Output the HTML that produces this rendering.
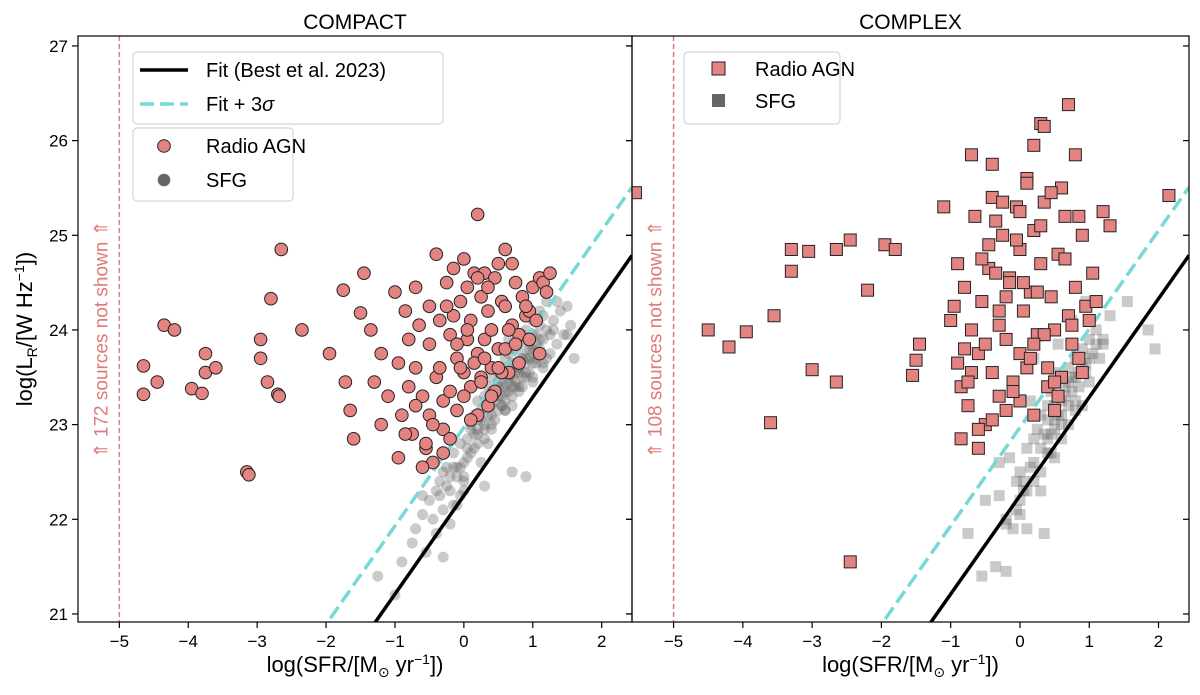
<!DOCTYPE html>
<html><head><meta charset="utf-8"><style>
html,body{margin:0;padding:0;background:#fff;width:1200px;height:695px;overflow:hidden}
svg{display:block;font-family:"Liberation Sans","DejaVu Sans",sans-serif}
</style></head><body>
<svg id="chart" width="1200" height="695" viewBox="0 0 1200 695"></svg>
<script>
// ---- data ----
const xTicks=[-5,-4,-3,-2,-1,0,1,2];
const yTicks=[21,22,23,24,25,26,27];
const fitSlope=1.04, fitIntercept=22.25, fitOffset=0.72;
const excludedLeft=172, excludedRight=108;

const agnLeftX=[-4.65,-4.65,-4.45,-4.35,-4.2,-3.95,-3.8,-3.75,-3.75,-3.6,-3.15,-3.12,-2.95,-2.95,-2.85,-2.8,-2.7,-2.68,-2.65,-2.35,-1.95,-1.75,-1.72,-1.65,-1.6,-1.5,-1.45,-1.35,-1.3,-1.2,-1.2,-1.1,-1.0,-0.95,-0.9,-0.85,-0.8,-0.8,-0.75,-0.7,-0.7,-0.65,-0.6,-0.55,-0.5,-0.5,-0.45,-0.4,-0.4,-0.35,-0.3,-0.3,-0.25,-0.2,-0.2,-0.15,-0.1,-0.1,-0.05,0.0,0.0,0.05,0.05,0.1,0.1,0.15,0.2,0.2,0.25,0.25,0.3,0.3,0.35,0.4,0.4,0.45,0.5,0.5,0.55,0.6,0.6,0.65,0.7,0.7,0.75,0.8,0.85,0.9,0.95,1.0,1.05,1.1,1.15,1.2,1.25,-0.85,-0.6,-0.3,0.0,0.2,0.35,-0.5,-0.2,0.1,0.45,0.15,-0.1,0.3,0.55,-0.35,0.6,0.8,-0.7,-0.45,0.25,0.05,-0.15,0.4,0.65,0.95,0.75,-0.95,-0.55,-0.05,0.5,1.1,0.9,0.2,-0.25,0.35];
const agnLeftY=[23.62,23.32,23.45,24.05,24.0,23.38,23.33,23.75,23.55,23.6,22.5,22.47,23.9,23.7,23.45,24.33,23.32,23.3,24.85,24.0,23.75,24.42,23.45,23.15,22.85,24.18,24.6,24.0,23.45,23.75,23.0,23.3,24.4,23.65,23.1,24.2,23.9,23.4,22.9,24.45,23.6,24.05,23.3,22.75,24.25,23.85,22.6,24.8,23.5,24.1,23.25,22.7,24.5,23.95,23.35,24.65,23.15,23.7,24.3,24.75,23.55,23.9,24.45,23.4,24.1,24.6,25.22,23.75,24.35,23.5,24.6,23.9,24.2,24.0,23.6,24.55,24.7,23.8,24.3,24.25,24.85,23.55,24.05,24.7,24.5,23.95,24.35,24.15,24.2,24.45,24.1,24.55,24.5,24.4,24.6,22.9,22.55,22.95,23.3,23.1,23.2,23.1,22.85,23.05,23.35,23.65,23.85,23.7,23.55,23.6,23.8,23.65,23.2,23.0,23.45,24.0,24.15,23.3,24.0,23.9,23.85,22.65,22.8,23.6,23.6,23.75,24.25,24.55,24.25,24.45];

const sfgLeftX=[-1.25,-1.0,-0.9,-0.75,-0.7,-0.6,-0.55,-0.5,-0.45,-0.4,-0.35,-0.3,-0.3,-0.25,-0.2,-0.2,-0.15,-0.1,-0.1,-0.05,0.0,0.0,0.05,0.1,0.1,0.15,0.2,0.2,0.25,0.3,0.3,0.35,0.4,0.4,0.45,0.5,0.5,0.55,0.6,0.6,0.65,0.7,0.7,0.75,0.8,0.8,0.85,0.9,0.9,0.95,1.0,1.0,1.05,1.1,1.1,1.15,1.2,1.2,1.25,1.3,1.35,1.4,1.45,1.5,1.55,1.6,0.15,0.35,0.55,0.75,0.95,1.15,0.25,0.45,0.65,0.85,1.05,-0.15,0.05,0.2,0.4,0.6,0.8,1.0,1.25,1.5,0.7,0.9,-0.6,0.3,0.65,1.35,
 0.3,0.35,0.4,0.45,0.5,0.55,0.6,0.65,0.7,0.75,0.8,0.85,0.9,0.95,1.0,1.05,1.1,1.15,0.4,0.5,0.6,0.7,0.8,0.9,1.0,1.1,0.45,0.55,0.65,0.75,0.85,0.95,1.05,0.2,0.3,0.4,0.5,0.6,0.7,0.8,-0.05,0.05,0.15,0.25,0.35,-0.2,-0.1,0.0,0.1,0.2,-0.35,-0.25,-0.15,-0.05,0.6,0.7,0.8,0.9,1.0,1.2,1.3,1.1,0.5,0.65,0.85,1.0,1.15,-0.4,-0.3,0.0];
const sfgLeftY=[21.4,21.2,21.55,21.75,21.9,22.05,21.65,22.2,22.0,21.85,22.4,22.1,21.6,22.55,22.3,21.95,22.7,22.45,22.15,22.8,22.6,22.3,22.85,23.0,22.7,23.1,22.9,23.25,23.15,23.3,22.95,23.4,23.2,23.5,23.35,23.6,23.3,23.45,23.7,23.4,23.55,23.8,23.5,23.65,23.9,23.6,23.75,24.0,23.7,23.85,24.1,23.8,23.95,24.2,23.75,23.9,24.3,23.7,23.95,24.1,23.85,24.2,23.95,24.25,24.05,23.7,22.9,23.1,23.2,23.4,23.55,23.65,23.05,23.25,23.35,23.5,23.7,22.55,22.75,22.8,23.0,23.15,23.35,23.45,23.75,23.95,22.5,22.45,22.25,22.35,23.9,24.3,
 23.0,23.25,23.1,23.3,23.45,23.2,23.35,23.5,23.3,23.45,23.6,23.4,23.55,23.7,23.5,23.65,23.8,23.6,22.95,23.15,23.25,23.4,23.55,23.65,23.75,23.9,23.05,23.3,23.45,23.55,23.7,23.8,23.85,22.95,22.85,23.35,23.4,23.6,23.65,23.85,22.55,22.65,22.75,22.6,22.8,22.45,22.55,22.4,22.95,23.05,22.25,22.35,22.15,22.25,23.15,23.2,23.4,23.5,23.65,24.0,24.0,24.05,23.55,23.75,23.95,23.95,24.15,22.3,22.5,22.45];

const agnRightX=[-5.55,-4.5,-4.2,-3.95,-3.55,-3.6,-3.3,-3.3,-3.0,-3.05,-2.65,-2.65,-2.45,-2.45,-2.2,-1.95,-1.8,-1.55,-1.5,-1.45,-1.1,-0.9,-0.7,-0.4,0.2,0.3,0.35,0.7,0.8,2.15,-1.0,-0.9,-0.85,-0.8,-0.75,-0.7,-0.65,-0.6,-0.55,-0.5,-0.45,-0.4,-0.35,-0.3,-0.3,-0.25,-0.2,-0.15,-0.1,-0.05,0.0,0.0,0.05,0.1,0.1,0.15,0.2,0.25,0.3,0.35,0.4,0.45,0.5,0.55,0.6,0.65,0.7,0.75,0.8,0.85,0.9,0.95,1.0,1.05,1.1,1.2,1.3,-0.85,-0.6,-0.4,-0.2,0.0,0.2,0.4,-0.7,-0.5,-0.3,-0.1,0.15,0.35,0.55,-0.95,-0.45,-0.05,0.3,0.6,0.85,-0.25,0.1,0.45,-0.55,-0.15,0.25,0.65,0.9,-0.75,-0.35,0.05,0.5,0.75,-0.6,-0.2,0.2,0.5,-0.4,0.0,-0.8];
const agnRightY=[25.45,24.0,23.82,23.98,24.15,23.02,24.85,24.62,23.58,24.83,24.85,23.45,24.95,21.55,24.42,24.9,24.85,23.52,23.68,23.85,25.3,24.7,25.85,25.4,25.95,26.18,26.15,26.38,25.85,25.42,24.1,23.65,23.4,24.45,23.2,24.0,25.2,23.75,24.3,23.0,24.9,23.55,25.15,24.2,23.3,25.0,23.9,24.55,23.45,25.3,23.75,24.85,24.2,25.6,23.6,24.4,25.05,23.95,24.7,25.35,23.4,24.35,24.0,24.8,23.5,25.2,24.15,23.85,24.45,23.7,25.0,24.25,24.1,24.6,24.3,25.25,25.1,22.85,22.95,23.05,23.15,23.25,23.1,23.6,23.55,23.85,24.05,23.35,23.7,23.95,23.3,24.25,24.65,24.95,25.1,25.5,25.2,25.35,25.55,25.45,24.75,24.5,24.4,24.75,23.55,23.45,24.6,24.5,23.45,24.05,22.75,24.35,23.85,23.15,25.75,25.25,23.8];

const sfgRightX=[-0.75,-0.55,-0.5,-0.35,-0.3,-0.2,-0.15,-0.05,0.0,0.0,0.05,0.1,0.15,0.2,0.25,0.3,0.35,0.4,0.45,0.5,0.55,0.6,0.65,0.7,0.75,0.8,0.85,0.9,0.95,1.0,1.05,1.1,1.15,1.2,1.3,1.55,1.85,1.95,-0.2,0.1,0.3,0.5,0.7,0.9,0.4,0.6,0.8,1.0,0.2,-0.1,0.15,0.55,0.75,0.95,0.35,-0.3,0.5,
 0.4,0.5,0.6,0.7,0.8,0.9,1.0,0.45,0.55,0.65,0.75,0.85,0.95,0.3,0.4,0.5,0.6,0.7,0.8,0.2,0.3,0.45,0.6,0.1,0.2,0.0,-0.1,0.05,-0.2,-0.05,1.1,1.2];
const sfgRightY=[21.85,21.4,22.2,21.5,22.25,21.45,22.65,22.1,22.5,22.05,22.4,22.75,22.55,22.85,22.95,23.1,22.9,23.2,23.35,23.05,23.3,23.5,23.4,23.6,23.35,23.7,23.55,23.8,23.65,23.9,23.75,24.0,23.7,23.85,24.15,24.3,24.0,23.8,21.95,21.9,22.3,22.65,23.0,23.2,22.7,23.0,23.15,23.45,23.7,23.35,23.25,23.85,24.1,24.3,21.85,22.6,23.55,
 23.05,23.2,23.25,23.45,23.5,23.6,23.7,22.9,23.1,23.3,23.5,23.4,23.55,22.75,22.85,22.95,23.1,23.2,23.25,22.6,22.5,22.7,22.85,22.3,22.4,22.2,21.9,22.3,22.0,22.4,23.85,23.9];

// ---- layout ----
const NS='http://www.w3.org/2000/svg';
const svg=document.getElementById('chart');
const X0=-5.6,X1=2.44,Y0=20.915,Y1=27.105;
const PT=36,PB=622;
function mk(tag,attrs,parent){const e=document.createElementNS(NS,tag);for(const k in attrs)e.setAttribute(k,attrs[k]);(parent||svg).appendChild(e);return e;}
function yS(v){return PB-(v-Y0)/(Y1-Y0)*(PB-PT);}

function panel(L,R,title,name,agnX,agnY,sfgX,sfgY,square,excl){
  const g=mk('g',{});
  
  
  const xS=v=>L+(v-X0)/(X1-X0)*(R-L);
  const clip=mk('clipPath',{id:'clip-'+name},g);
  mk('rect',{x:L,y:PT,width:R-L,height:PB-PT},clip);
  const plot=mk('g',{'clip-path':'url(#clip-'+name+')'},g);
  const ex=mk('line',{x1:xS(-5),x2:xS(-5),y1:PT,y2:PB,stroke:'#e07a7a','stroke-width':1.5,'stroke-dasharray':'5,3'},plot);
  
  
  const et=mk('text',{x:0,y:0,transform:`translate(${xS(-5)-12},${yS(23.9)}) rotate(-90)`,'text-anchor':'middle','font-size':19,fill:'#e07a7a'},g);
  et.textContent='⇑ '+excl+' sources not shown ⇑';
  
  
  const sg=mk('g',{},plot);
  
  
  for(let i=0;i<sfgX.length;i++){
    let m;
    if(square) m=mk('rect',{x:xS(sfgX[i])-5.5,y:yS(sfgY[i])-5.5,width:11,height:11,fill:'#666','fill-opacity':0.35},sg);
    else m=mk('circle',{cx:xS(sfgX[i]),cy:yS(sfgY[i]),r:5.5,fill:'#666','fill-opacity':0.35},sg);
    
    
  }
  const f=v=>fitSlope*v+fitIntercept;
  const fl=mk('line',{x1:xS(X0),y1:yS(f(X0)),x2:xS(X1),y2:yS(f(X1)),stroke:'#000','stroke-width':3.5},plot);
  
  
  const dl=mk('line',{x1:xS(X0),y1:yS(f(X0)+fitOffset),x2:xS(X1),y2:yS(f(X1)+fitOffset),stroke:'#78d8d6','stroke-width':3.5,'stroke-dasharray':'14,6'},plot);
  
  
  const ag=mk('g',{},plot);
  
  
  for(let i=0;i<agnX.length;i++){
    let m;
    if(square) m=mk('rect',{x:xS(agnX[i])-6,y:yS(agnY[i])-6,width:12,height:12,fill:'#e48482',stroke:'#222','stroke-width':1},ag);
    else m=mk('circle',{cx:xS(agnX[i]),cy:yS(agnY[i]),r:6.3,fill:'#e48482',stroke:'#222','stroke-width':1},ag);
    
    
  }
  mk('rect',{x:L,y:PT,width:R-L,height:PB-PT,fill:'none',stroke:'#000','stroke-width':1.2},g);
  xTicks.forEach(t=>{
    const x=xS(t);
    mk('line',{x1:x,x2:x,y1:PB,y2:PB+6,stroke:'#000','stroke-width':1.2},g);
    const tl=mk('text',{x:x,y:PB+25,'text-anchor':'middle','font-size':17,fill:'#000'},g);
    tl.textContent=(t<0?'\u2212'+(-t):t);
    
    
  });
  yTicks.forEach(t=>{
    const y=yS(t);
    mk('line',{x1:L-6,x2:L,y1:y,y2:y,stroke:'#000','stroke-width':1.2},g);
    mk('line',{x1:R-6,x2:R,y1:y,y2:y,stroke:'#000','stroke-width':1.2},g);
  });
  const xt=mk('text',{x:(L+R)/2,y:PB+50,'text-anchor':'middle','font-size':22,fill:'#000'},g);
  xt.innerHTML='log(SFR/[M<tspan font-size="14" dy="5">⊙</tspan><tspan dy="-5"> yr</tspan><tspan font-size="14" dy="-8">−1</tspan><tspan dy="8">])</tspan>';
  
  
  const tt=mk('text',{x:(L+R)/2,y:29,'text-anchor':'middle','font-size':21,fill:'#000'},g);
  tt.textContent=title;
  
  
}
panel(78,632,'COMPACT','compact',agnLeftX,agnLeftY,sfgLeftX,sfgLeftY,false,excludedLeft);
panel(632,1189,'COMPLEX','complex',agnRightX,agnRightY,sfgRightX,sfgRightY,true,excludedRight);

yTicks.forEach(t=>{
  const tl=mk('text',{x:68,y:yS(t)+6,'text-anchor':'end','font-size':17,fill:'#000'});
  tl.textContent=t;
  
  
});
const yt=mk('text',{x:0,y:0,transform:'translate(32,329) rotate(-90)','text-anchor':'middle','font-size':22,fill:'#000'});
yt.innerHTML='log(L<tspan font-size="14" dy="5">R</tspan><tspan dy="-5">/[W Hz</tspan><tspan font-size="14" dy="-8">−1</tspan><tspan dy="8">])</tspan>';



function legendBox(x,y,w,h,name){const r=mk('rect',{x:x,y:y,width:w,height:h,rx:4,fill:'#fff','fill-opacity':0.85,stroke:'#ccc','stroke-width':1});}
function ltext(x,y,s,name){const t=mk('text',{x:x,y:y,'font-size':20,fill:'#000'});t.innerHTML=s;}
legendBox(133,52,310,72,'fit-legend');
mk('line',{x1:140,x2:188,y1:70,y2:70,stroke:'#000','stroke-width':3.5});
ltext(206,77,'Fit (Best et al. 2023)','legend-entry-fit');
mk('line',{x1:140,x2:188,y1:104,y2:104,stroke:'#78d8d6','stroke-width':3.5,'stroke-dasharray':'14,6'});
ltext(206,111,'Fit + 3<tspan font-style="italic">σ</tspan>','legend-entry-fit-3sigma');
legendBox(133,128,160,73,'compact-legend');
mk('circle',{cx:164,cy:146,r:6.3,fill:'#e48482',stroke:'#222','stroke-width':1});
ltext(206,153,'Radio AGN','legend-entry-radio-agn');
mk('circle',{cx:164,cy:180,r:6.3,fill:'#666'});
ltext(206,187,'SFG','legend-entry-sfg');
legendBox(684,52,156,72,'complex-legend');
mk('rect',{x:712,y:62,width:13,height:13,fill:'#e48482',stroke:'#222','stroke-width':1});
ltext(755,76,'Radio AGN','legend-entry-radio-agn-sq');
mk('rect',{x:712,y:94,width:13,height:13,fill:'#666'});
ltext(755,108,'SFG','legend-entry-sfg-sq');
</script>
</body></html>
